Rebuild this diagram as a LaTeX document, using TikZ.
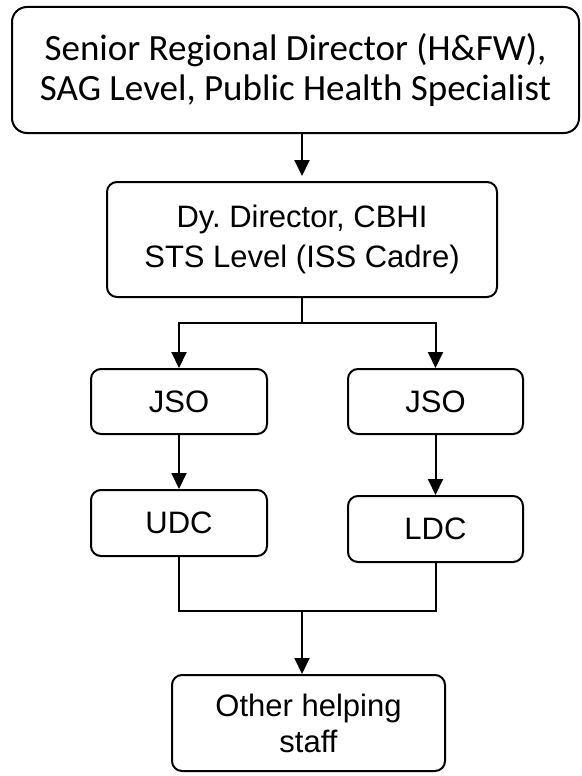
\documentclass[tikz,border=0pt]{standalone}
\usepackage{fontspec}
\setmainfont{Liberation Sans}
\newfontfamily\calib{Carlito}
\usetikzlibrary{arrows.meta}
\frenchspacing
\begin{document}
\begin{tikzpicture}[x=1pt,y=-1pt,
  box/.style={draw, line width=2pt, rounded corners=10pt, inner sep=0pt, align=center, font=\fontsize{31}{40}\selectfont},
  arr/.style={line width=2pt, -{Triangle[width=15pt,length=16pt]}},
  ln/.style={line width=2pt}]
\useasboundingbox (0,0) rectangle (581,776);
\node[box, rounded corners=15pt, minimum width=567pt, minimum height=126pt, font=\calib\fontsize{37}{40}\selectfont] (top) at (295.5,70) {Senior Regional Director (H\&FW),\\SAG Level, Public Health Specialist};
\node[box, minimum width=390pt, minimum height=115pt] (d) at (302,239.5) {Dy.\ Director, CBHI\\STS Level (ISS Cadre)};
\node[box, minimum width=176pt, minimum height=65pt] (jl) at (179,401.5) {JSO};
\node[box, minimum width=175pt, minimum height=65pt] (jr) at (435.5,401.5) {JSO};
\node[box, minimum width=176pt, minimum height=66pt] (u) at (179,523) {UDC};
\node[box, minimum width=175pt, minimum height=66pt] (l) at (435.5,529) {LDC};
\node[box, minimum width=273pt, minimum height=96pt, font=\fontsize{31}{36}\selectfont] (o) at (308.5,723) {Other helping\\staff};
\coordinate (s1) at (302,323);
\coordinate (m) at (302,611);
\draw[arr, shorten >=5pt] (d.north |- top.south) -- (d.north);
\draw[ln] (d.south) -- (s1);
\draw[arr] (s1) -| (jl.north);
\draw[arr] (s1) -| (jr.north);
\draw[arr] (jl.south) -- (u.north);
\draw[arr] (jr.south) -- (l.north);
\draw[ln] (u.south) |- (m);
\draw[ln] (l.south) |- (m);
\draw[arr] (m) -- (m |- o.north);
\end{tikzpicture}
\end{document}
